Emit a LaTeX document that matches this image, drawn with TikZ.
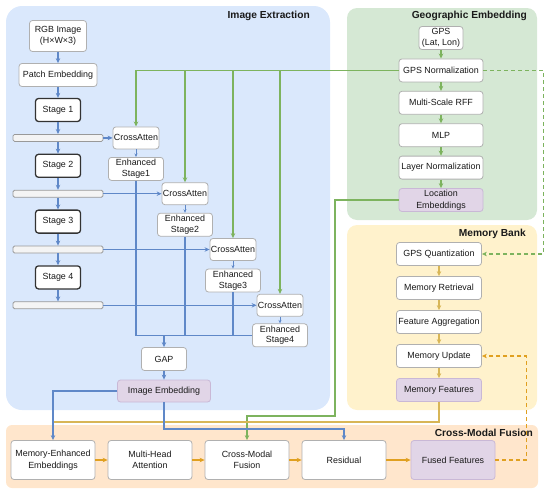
\documentclass[tikz,border=0pt]{standalone}
\usepackage{fontspec}
\setmainfont{Liberation Sans}
\usepackage{tikz}
\usetikzlibrary{positioning}
\usetikzlibrary{shapes, arrows.meta}
\definecolor{bluepanel}{HTML}{DAE8FC}
\definecolor{greenpanel}{HTML}{D5E8D4}
\definecolor{yellowpanel}{HTML}{FFF2CC}
\definecolor{orangepanel}{HTML}{FFE6CC}
\definecolor{boxedge}{HTML}{B0B0B0}
\definecolor{stageedge}{HTML}{333333}
\definecolor{embfill}{HTML}{E1D5E7}
\definecolor{embedge}{HTML}{C9B8D6}
\definecolor{barfill}{HTML}{F4F4F4}
\definecolor{baredge}{HTML}{999999}
\definecolor{blueline}{HTML}{5F88C8}
\definecolor{greenline}{HTML}{7DB35E}
\definecolor{goldline}{HTML}{D8B657}
\definecolor{orangeline}{HTML}{E0A020}
\definecolor{textcol}{HTML}{1A1A1A}
\tikzstyle{box}        = [rectangle, rounded corners=3pt, draw=boxedge, line width=0.8pt,
                          fill=white, minimum width=84pt, minimum height=23pt,
                          inner sep=1pt, align=center, text=textcol]
\tikzstyle{stagebox}   = [box, draw=stageedge, line width=1.3pt, minimum width=45pt]
\tikzstyle{embbox}     = [box, draw=embedge, fill=embfill]
\tikzstyle{bar}        = [rectangle, rounded corners=1.5pt, draw=baredge, line width=0.8pt,
                          fill=barfill, minimum width=90pt, minimum height=7pt, inner sep=0pt]
\tikzstyle{fusebox}    = [box, minimum height=39pt, font=\fontsize{8.9}{11.6}\selectfont]
\tikzstyle{title}      = [anchor=east, inner sep=0pt, text=textcol,
                          font=\fontsize{10.2}{12}\selectfont\bfseries]
\tikzstyle{bluearrow}  = [draw=blueline, line width=1.3pt, ->, >={Stealth[length=5pt,width=4.5pt]}]
\tikzstyle{thinarrow}  = [draw=blueline, line width=0.8pt, ->, >={Stealth[length=3.5pt,width=3pt]}]
\tikzstyle{bluelink}   = [draw=blueline, line width=1.3pt]
\tikzstyle{greenarrow} = [draw=greenline, line width=1.3pt, ->, >={Stealth[length=5pt,width=4.5pt]}]
\tikzstyle{greendash}  = [greenarrow, dash pattern=on 4pt off 3pt]
\tikzstyle{goldarrow}  = [draw=goldline, line width=1.3pt, ->, >={Stealth[length=5pt,width=4.5pt]}]
\tikzstyle{goldlink}   = [draw=goldline, line width=1.3pt]
\tikzstyle{orangearrow}= [draw=orangeline, line width=1.3pt, ->, >={Stealth[length=5pt,width=4.5pt]}]
\tikzstyle{orangedash} = [orangearrow, dash pattern=on 4pt off 3pt]
\begin{document}
\begin{tikzpicture}[x=1pt, y=1pt, font=\fontsize{8.9}{10.5}\selectfont]
\useasboundingbox (0,0) rectangle (550,-493);
\fill [bluepanel, rounded corners=16pt] (6,-6) rectangle (330,-410);
\fill [greenpanel, rounded corners=10pt] (347,-8) rectangle (537,-220);
\fill [yellowpanel, rounded corners=10pt] (347,-225) rectangle (537,-410);
\fill [orangepanel, rounded corners=6pt] (6,-425) rectangle (538,-488);
\node (image title) [title] at (310,-16) {Image Extraction};
\node (geo title) [title] at (527,-16) {Geographic Embedding};
\node (memory title) [title] at (526,-234) {Memory Bank};
\node (fusion title) [title] at (533,-433) {Cross-Modal Fusion};

\node (rgb image) [box, minimum width=57pt, minimum height=31pt] at (58,-36) {RGB Image\\(H×W×3)};
\node (patch embedding) [box, minimum width=78pt, below of=rgb image, node distance=39pt] {Patch Embedding};
\node (stage 1) [stagebox, below of=patch embedding, node distance=35pt] {Stage 1};
\node (bar 1) [bar, below of=stage 1, node distance=27.9pt] {};
\node (stage 2) [stagebox, below of=bar 1, node distance=27.9pt] {Stage 2};
\node (bar 2) [bar, below of=stage 2, node distance=27.9pt] {};
\node (stage 3) [stagebox, below of=bar 2, node distance=27.9pt] {Stage 3};
\node (bar 3) [bar, below of=stage 3, node distance=27.9pt] {};
\node (stage 4) [stagebox, below of=bar 3, node distance=27.9pt] {Stage 4};
\node (bar 4) [bar, below of=stage 4, node distance=27.9pt] {};
\node (cross 1) [box, minimum width=45pt, minimum height=22pt, right of=bar 1, node distance=78pt] {CrossAtten};
\node (cross 2) [box, minimum width=45pt, minimum height=22pt, right of=bar 2, node distance=127pt] {CrossAtten};
\node (cross 3) [box, minimum width=45pt, minimum height=22pt, right of=bar 3, node distance=175pt] {CrossAtten};
\node (cross 4) [box, minimum width=45pt, minimum height=22pt, right of=bar 4, node distance=222pt] {CrossAtten};
\node (enhanced 1) [box, minimum width=55pt, below of=cross 1, node distance=31pt] {Enhanced\\Stage1};
\node (enhanced 2) [box, minimum width=55pt, below of=cross 2, node distance=31pt] {Enhanced\\Stage2};
\node (enhanced 3) [box, minimum width=55pt, below of=cross 3, node distance=31pt] {Enhanced\\Stage3};
\node (enhanced 4) [box, minimum width=55pt, below of=cross 4, node distance=30pt] {Enhanced\\Stage4};
\node (gap) [box, minimum width=45pt] at (164,-359) {GAP};
\node (image embedding) [embbox, minimum width=93pt, minimum height=22pt, below of=gap, node distance=32pt] {Image Embedding};

\node (gps) [box, minimum width=44pt] at (441,-38) {GPS\\(Lat, Lon)};
\node (gps normalization) [box, below of=gps, node distance=32.4pt] {GPS Normalization};
\node (rff) [box, below of=gps normalization, node distance=32.4pt] {Multi-Scale RFF};
\node (mlp) [box, below of=rff, node distance=32.4pt] {MLP};
\node (layer normalization) [box, below of=mlp, node distance=32.4pt] {Layer Normalization};
\node (location embeddings) [embbox, below of=layer normalization, node distance=32.4pt, font=\fontsize{8.9}{11.6}\selectfont] {Location\\Embeddings};

\node (gps quantization) [box, minimum width=85pt] at (439,-254) {GPS Quantization};
\node (memory retrieval) [box, minimum width=85pt, below of=gps quantization, node distance=34pt] {Memory Retrieval};
\node (feature aggregation) [box, minimum width=85pt, below of=memory retrieval, node distance=34pt] {Feature Aggregation};
\node (memory update) [box, minimum width=85pt, below of=feature aggregation, node distance=34pt] {Memory Update};
\node (memory features) [embbox, minimum width=85pt, below of=memory update, node distance=34pt] {Memory Features};

\node (memory enhanced) [fusebox] at (53,-460) {Memory-Enhanced\\Embeddings};
\node (multi head) [fusebox, right of=memory enhanced, node distance=97pt] {Multi-Head\\Attention};
\node (cross modal) [fusebox, right of=multi head, node distance=97pt] {Cross-Modal\\Fusion};
\node (residual) [fusebox, right of=cross modal, node distance=97pt] {Residual};
\node (fused features) [fusebox, embbox, minimum height=39pt, right of=residual, node distance=109pt] {Fused Features};

\coordinate (merge) at (gap |- enhanced 4.west);
\coordinate (blue bend) at (164,-429);
\coordinate (yellow join) at (53,-422);
\coordinate (green bend) at (335,-416);

\draw [bluearrow] (rgb image) -- (patch embedding);
\draw [bluearrow] (patch embedding) -- (stage 1);
\draw [bluearrow] (stage 1) -- (bar 1);
\draw [bluearrow] (bar 1) -- (stage 2);
\draw [bluearrow] (stage 2) -- (bar 2);
\draw [bluearrow] (bar 2) -- (stage 3);
\draw [bluearrow] (stage 3) -- (bar 3);
\draw [bluearrow] (bar 3) -- (stage 4);
\draw [bluearrow] (stage 4) -- (bar 4);
\draw [bluearrow] (bar 1) -- (cross 1);
\draw [bluearrow] (bar 2) -- (cross 2);
\draw [bluearrow] (bar 3) -- (cross 3);
\draw [bluearrow] (bar 4) -- (cross 4);
\draw [thinarrow] (cross 1) -- (enhanced 1);
\draw [thinarrow] (cross 2) -- (enhanced 2);
\draw [thinarrow] (cross 3) -- (enhanced 3);
\draw [thinarrow] (cross 4) -- (enhanced 4);
\draw [bluelink] (enhanced 1) |- (enhanced 4.west);
\draw [bluelink] (enhanced 2) -- (enhanced 2 |- enhanced 4.west);
\draw [bluelink] (enhanced 3) -- (enhanced 3 |- enhanced 4.west);
\draw [bluearrow] (merge) -- (gap);
\draw [bluearrow] (gap) -- (image embedding);

\draw [greenarrow] (gps) -- (gps normalization);
\draw [greenarrow] (gps normalization) -- (rff);
\draw [greenarrow] (rff) -- (mlp);
\draw [greenarrow] (mlp) -- (layer normalization);
\draw [greenarrow] (layer normalization) -- (location embeddings);
\draw [greenarrow] (gps normalization.west) -| (cross 1.north);
\draw [greenarrow] (cross 2 |- gps normalization.west) -- (cross 2);
\draw [greenarrow] (cross 3 |- gps normalization.west) -- (cross 3);
\draw [greenarrow] (cross 4 |- gps normalization.west) -- (cross 4);
\draw [greendash] (gps normalization.east) -- ++(60,0) |- (gps quantization.east);

\draw [goldarrow] (gps quantization) -- (memory retrieval);
\draw [goldarrow] (memory retrieval) -- (feature aggregation);
\draw [goldarrow] (feature aggregation) -- (memory update);
\draw [goldarrow] (memory update) -- (memory features);

\draw [greenarrow] (location embeddings.west) -| (green bend) -| (cross modal.north);
\draw [goldlink] (memory features) |- (yellow join);
\draw [bluearrow] (image embedding.west) -| (memory enhanced.north);
\draw [bluearrow] (image embedding) -- (blue bend) -| (residual);

\draw [orangearrow] (memory enhanced) -- (multi head);
\draw [orangearrow] (multi head) -- (cross modal);
\draw [orangearrow] (cross modal) -- (residual);
\draw [orangearrow] (residual) -- (fused features);
\draw [orangedash] (fused features.east) -- ++(31,0) |- (memory update.east);
\end{tikzpicture}
\end{document}
